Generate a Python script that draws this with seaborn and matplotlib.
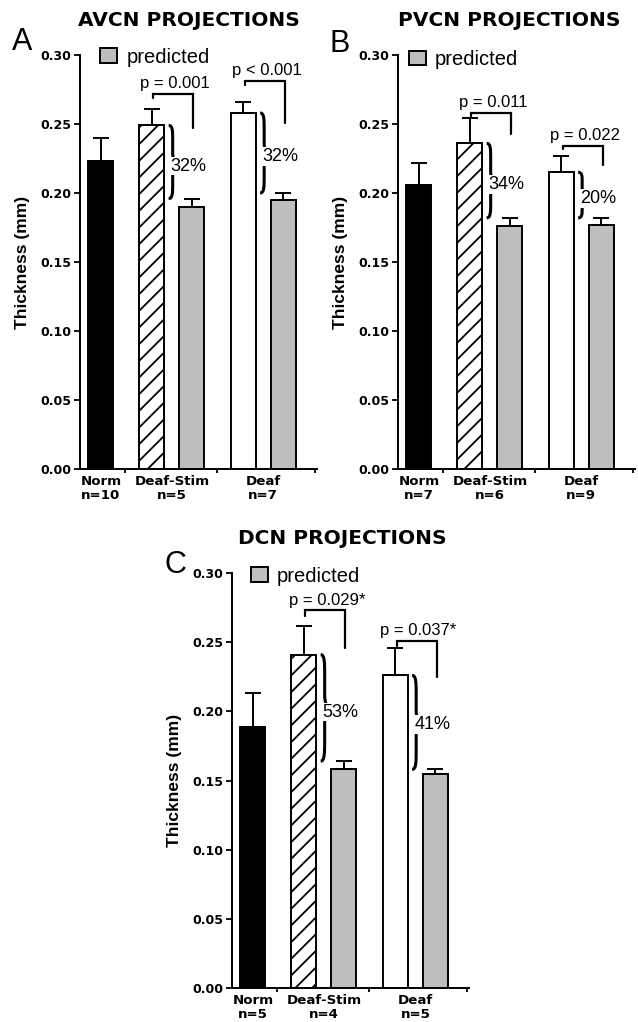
import numpy as np
import pandas as pd
import matplotlib
matplotlib.use("Agg")
import matplotlib.pyplot as plt
import seaborn as sns
from matplotlib.path import Path
from matplotlib.patches import PathPatch, Patch

sns.set_style("ticks")
plt.rcParams["font.family"] = ["DejaVu Sans"]
plt.rcParams["hatch.linewidth"] = 1.3
for key in ["text.color", "axes.labelcolor", "xtick.color", "ytick.color",
            "axes.edgecolor", "xtick.labelcolor", "ytick.labelcolor"]:
    plt.rcParams[key] = "black"

# ---------------- data ----------------
bar_kinds = ["Norm", "Deaf-Stim", "predicted", "Deaf", "predicted"]
group_names = ["Norm", "Deaf-Stim", "Deaf"]
y_ticks = [0.00, 0.05, 0.10, 0.15, 0.20, 0.25, 0.30]
titles = ["AVCN PROJECTIONS", "PVCN PROJECTIONS", "DCN PROJECTIONS"]
panel_letters = ["A", "B", "C"]
legend_label = "predicted"
y_label = "Thickness (mm)"

avcn_means = [0.223, 0.249, 0.190, 0.258, 0.195]
avcn_sem = [0.017, 0.012, 0.006, 0.008, 0.005]
avcn_n = [10, 5, 7]
avcn_p = ["p = 0.001", "p < 0.001"]
avcn_pct = ["32%", "32%"]
avcn_bracket = [0.272, 0.281]
avcn_left_leg = [0.269, 0.278]
avcn_right_leg = [0.247, 0.251]

pvcn_means = [0.206, 0.236, 0.176, 0.215, 0.177]
pvcn_sem = [0.016, 0.018, 0.006, 0.012, 0.005]
pvcn_n = [7, 6, 9]
pvcn_p = ["p = 0.011", "p = 0.022"]
pvcn_pct = ["34%", "20%"]
pvcn_bracket = [0.258, 0.234]
pvcn_left_leg = [0.254, 0.232]
pvcn_right_leg = [0.243, 0.220]

dcn_means = [0.189, 0.241, 0.158, 0.226, 0.155]
dcn_sem = [0.024, 0.021, 0.006, 0.020, 0.003]
dcn_n = [5, 4, 5]
dcn_p = ["p = 0.029*", "p = 0.037*"]
dcn_pct = ["53%", "41%"]
dcn_bracket = [0.273, 0.251]
dcn_left_leg = [0.269, 0.247]
dcn_right_leg = [0.246, 0.225]

# ---------------- layout / style ----------------
positions = [0.0, 1.275, 2.275, 3.56, 4.56]
bar_colors = ["black", "white", "#bebebe", "white", "#bebebe"]
W, H = 638, 1022
DPI = 100
XLIM = (-0.52, 5.40)
AX_W = 237

panels = [
    dict(means=avcn_means, sem=avcn_sem, n=avcn_n, p=avcn_p, pct=avcn_pct,
         br=avcn_bracket, ll=avcn_left_leg, rl=avcn_right_leg,
         left=80, top=55, bottom=469, title=titles[0], title_xy=(189, 21),
         letter=panel_letters[0], letter_xy=(12, 50), leg=(0.085, 0.995)),
    dict(means=pvcn_means, sem=pvcn_sem, n=pvcn_n, p=pvcn_p, pct=pvcn_pct,
         br=pvcn_bracket, ll=pvcn_left_leg, rl=pvcn_right_leg,
         left=398, top=55, bottom=469, title=titles[1], title_xy=(509, 21),
         letter=panel_letters[1], letter_xy=(329, 52), leg=(0.046, 0.989)),
    dict(means=dcn_means, sem=dcn_sem, n=dcn_n, p=dcn_p, pct=dcn_pct,
         br=dcn_bracket, ll=dcn_left_leg, rl=dcn_right_leg,
         left=232, top=573, bottom=988, title=titles[2], title_xy=(342, 539),
         letter=panel_letters[2], letter_xy=(164, 573), leg=(0.079, 0.992)),
]

fig = plt.figure(figsize=(W / DPI, H / DPI), dpi=DPI)


def brace(ax, x, ytop, ybot, w1=0.10, w2=0.22):
    h = ytop - ybot
    ym = (ytop + ybot) / 2
    verts = [
        (x, ytop),
        (x + w1, ytop), (x + w1, ytop - 0.08 * h), (x + w1, ytop - 0.2 * h),
        (x + w1, ym + 0.12 * h),
        (x + w1, ym + 0.03 * h), (x + w2 - 0.04, ym), (x + w2, ym),
        (x + w2 - 0.04, ym), (x + w1, ym - 0.03 * h), (x + w1, ym - 0.12 * h),
        (x + w1, ybot + 0.2 * h),
        (x + w1, ybot + 0.08 * h), (x + w1, ybot), (x, ybot),
    ]
    codes = [Path.MOVETO,
             Path.CURVE4, Path.CURVE4, Path.CURVE4,
             Path.LINETO,
             Path.CURVE4, Path.CURVE4, Path.CURVE4,
             Path.CURVE4, Path.CURVE4, Path.CURVE4,
             Path.LINETO,
             Path.CURVE4, Path.CURVE4, Path.CURVE4]
    ax.add_patch(PathPatch(Path(verts, codes), fill=False, lw=2.2,
                           edgecolor="black", zorder=4, clip_on=False))


for P in panels:
    l = P["left"] / W
    b = (H - P["bottom"]) / H
    h = (P["bottom"] - P["top"]) / H
    ax = fig.add_axes([l, b, AX_W / W, h])

    df = pd.DataFrame({"pos": positions, "val": P["means"],
                       "bar": [str(i) for i in range(len(positions))],
                       "kind": bar_kinds})
    sns.barplot(data=df, x="pos", y="val", hue="bar", palette=bar_colors,
                native_scale=True, width=0.625, dodge=False, errorbar=None,
                legend=False, ax=ax, zorder=2)
    for patch in ax.patches:
        patch.set_edgecolor("black")
        patch.set_linewidth(1.4)
        cx = patch.get_x() + patch.get_width() / 2
        if abs(cx - positions[1]) < 0.05:
            patch.set_hatch("//")

    ax.errorbar(positions, P["means"],
                yerr=[np.zeros(len(positions)), P["sem"]],
                fmt="none", ecolor="black", elinewidth=1.4,
                capsize=5.5, capthick=1.4, zorder=3)

    ax.set_xlim(*XLIM)
    ax.set_ylim(0, 0.30)
    ax.set_yticks(y_ticks)
    ax.set_yticklabels([f"{t:.2f}" for t in y_ticks])

    centers = [positions[0], (positions[1] + positions[2]) / 2,
               (positions[3] + positions[4]) / 2]
    ax.set_xticks(centers)
    ax.set_xticklabels([f"{g}\nn={n}" for g, n in zip(group_names, P["n"])],
                       linespacing=1.1)
    ax.set_xticks([0.6, 2.9, 5.35], minor=True)
    ax.tick_params(axis="x", which="major", length=0, pad=4, labelsize=9.6,
                   colors="black")
    ax.tick_params(axis="x", which="minor", length=3, width=1.3,
                   direction="out", colors="black")
    ax.tick_params(axis="y", length=4, width=1.3, pad=2, labelsize=9,
                   colors="black")
    for lbl in ax.get_xticklabels() + ax.get_yticklabels():
        lbl.set_fontweight("bold")
    for s in ["top", "right"]:
        ax.spines[s].set_visible(False)
    for s in ["left", "bottom"]:
        ax.spines[s].set_linewidth(1.4)
        ax.spines[s].set_color("black")
    ax.set_xlabel("")
    ax.set_ylabel(y_label, fontsize=12.5, fontweight="bold",
                  family="Liberation Sans", color="black")
    ax.yaxis.set_label_coords(-0.21, 0.5)

    # significance brackets and percentage braces
    for k, (ie, ip) in enumerate([(1, 2), (3, 4)]):
        x1 = positions[ie] + 0.03
        x2 = positions[ip] + 0.03
        ax.plot([x1, x1, x2, x2], [P["ll"][k], P["br"][k], P["br"][k], P["rl"][k]],
                color="black", lw=1.6, solid_joinstyle="miter", zorder=4,
                clip_on=False)
        ax.annotate(P["p"][k], xy=((x1 + x2) / 2 + 0.05, P["br"][k]),
                    xytext=(0, 2), textcoords="offset points", ha="center",
                    va="bottom", fontsize=12, family="Liberation Sans",
                    color="black", annotation_clip=False)
        ytop = P["means"][ie]
        ybot = P["means"][ip] + P["sem"][ip]
        brace(ax, positions[ie] + 0.42, ytop, ybot)
        ax.text(positions[ie] + 0.47, (P["means"][ie] + P["means"][ip]) / 2,
                P["pct"][k], ha="left", va="center", fontsize=13,
                family="Liberation Sans", zorder=5, color="black",
                bbox=dict(facecolor="white", edgecolor="none", pad=0.5))

    leg = ax.legend(handles=[Patch(facecolor="#bebebe", edgecolor="black",
                                   lw=1.4, label=legend_label)],
                    loc="center left", bbox_to_anchor=P["leg"], frameon=False,
                    prop=dict(family="Liberation Sans", size=14.5),
                    handlelength=0.85, handleheight=0.75, handletextpad=0.45,
                    borderpad=0, borderaxespad=0, labelcolor="black")

    tx, ty = P["title_xy"]
    fig.text(tx / W, 1 - ty / H, P["title"], ha="center", va="center",
             fontsize=14.5, fontweight="bold", color="black")
    lx, ly = P["letter_xy"]
    fig.text(lx / W, 1 - ly / H, P["letter"], ha="left", va="baseline",
             fontsize=22, family="Liberation Sans", color="black")

fig.savefig("out.png", dpi=DPI)
